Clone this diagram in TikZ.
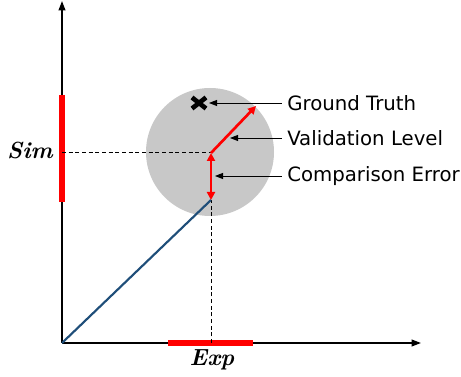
\documentclass[tikz,border=0pt]{standalone}
\usepackage{fontspec}
\setsansfont{DejaVu Sans}
\usetikzlibrary{arrows.meta, positioning}
\definecolor{bluline}{HTML}{1F4E79}
\definecolor{circgray}{HTML}{C8C8C8}

\begin{document}
\begin{tikzpicture}[x=0.75pt, y=-0.75pt,
    lbl/.style={font=\sffamily\fontsize{14.8}{17}\selectfont, anchor=west, inner sep=0pt},
    axlbl/.style={font=\bfseries\itshape\fontsize{17.5}{20}\selectfont, inner sep=0pt},
    leader/.style={-{Triangle[length=6pt, width=4.5pt]}, line width=0.7pt},
    redbar/.style={red, line width=4pt},
    redarr/.style={red, line width=2pt},
    tip/.style={Triangle[length=6pt, width=6pt]}]
    \useasboundingbox (0,0) rectangle (461,377);
    % points
    \coordinate (O) at (62,343);
    \coordinate (P) at (211,200);
    \coordinate (S) at (211,153);
    \coordinate (G) at (256,106);
    \coordinate (T) at (199,103);
    \coordinate (ysim) at (62,153);
    \coordinate (xexp) at (211,343);
    % circle
    \fill[circgray] (210,152) circle (64);
    % axes
    \draw[line width=1.2pt, -{Triangle[length=7pt, width=5pt]}] (O) -- (62,1);
    \draw[line width=1.2pt, -{Triangle[length=7pt, width=5pt]}] (O) -- (421,343);
    \draw[redbar] (62,95) -- (62,202);
    \draw[redbar] (168,343) -- (253,343);
    \node[axlbl] (sim) at (30,151) {Sim};
    \node[axlbl] (exp) at (212,360) {Exp};
    % dashed guides
    \draw[dashed, dash pattern=on 3pt off 2pt, line width=0.75pt] (ysim) -- (S);
    \draw[dashed, dash pattern=on 3pt off 2pt, line width=0.75pt] (xexp) -- (P);
    % blue line and red arrows
    \draw[bluline, line width=1.6pt] (O) -- (P);
    \draw[redarr, {Triangle[length=6pt, width=6pt]}-{Triangle[length=6pt, width=6pt]}] (P) -- (S);
    \draw[redarr, -{Triangle[length=6pt, width=6pt]}] (S) -- (G);
    % ground truth marker
    \draw[line width=3.5pt] ([shift={(-7,-5.5)}]T) -- ([shift={(7,5.5)}]T)
        ([shift={(-7,5.5)}]T) -- ([shift={(7,-5.5)}]T);
    % labels
    \node[lbl] (gt) at (287,103) {Ground Truth};
    \node[lbl] (vl) at (287,138) {Validation Level};
    \node[lbl] (ce) at (287,176) {Comparison Error};
    \coordinate (gtend) at (209,103);
    \coordinate (vlend) at (230,138);
    \coordinate (ceend) at (215,176);
    \draw[leader] ([xshift=-4pt]gt.west) -- (gtend);
    \draw[leader] ([xshift=-4pt]vl.west) -- (vlend);
    \draw[leader] ([xshift=-4pt]ce.west) -- (ceend);
\end{tikzpicture}
\end{document}
